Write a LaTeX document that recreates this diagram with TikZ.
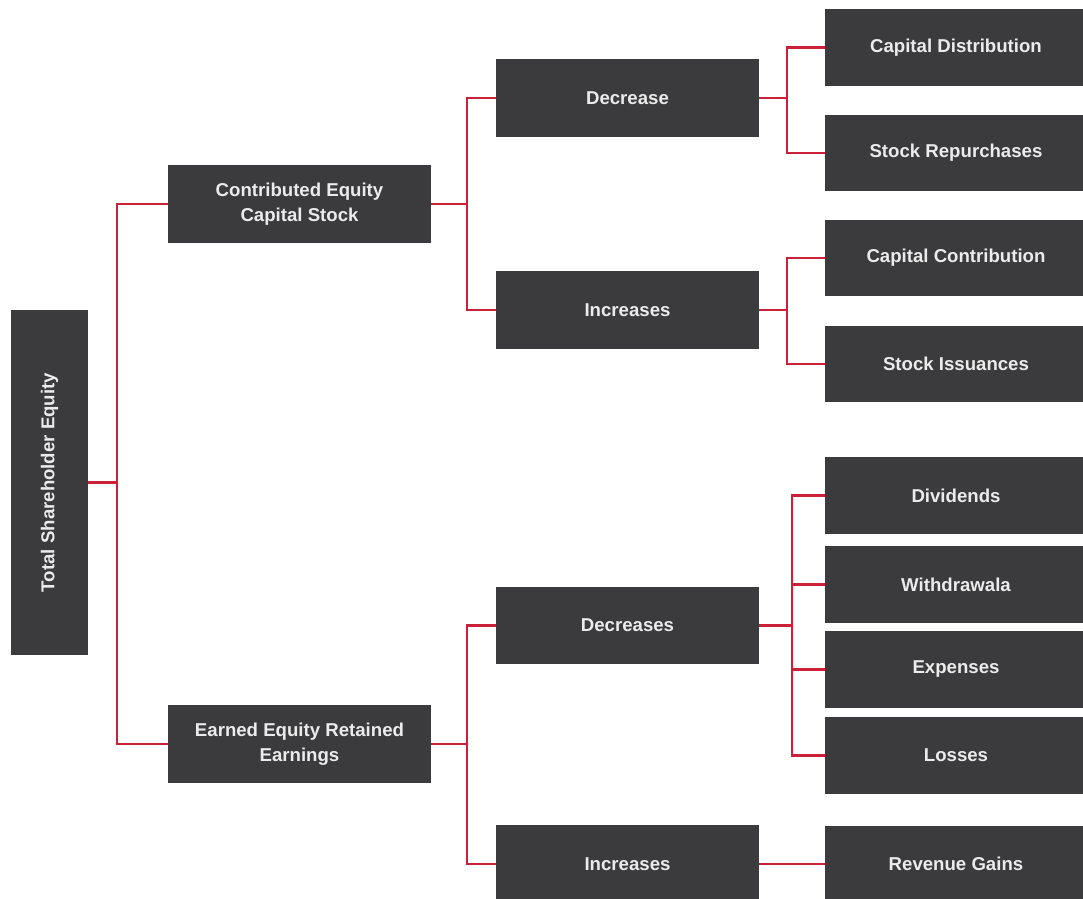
\documentclass[tikz,border=0pt]{standalone}
\usepackage{fontspec}
\setmainfont{Liberation Sans}
\usetikzlibrary{positioning}
\definecolor{boxgray}{HTML}{3B3B3D}
\definecolor{linkred}{HTML}{CC1F38}
\tikzset{
	item/.style={rectangle, fill=boxgray, text=white!92!black,
		minimum width=5.26cm, minimum height=1.56cm, align=center,
		inner sep=2pt, font=\fontsize{10.6}{14.2}\selectfont\bfseries},
	leaf/.style={item, minimum width=5.24cm, minimum height=1.54cm},
	rootbox/.style={item, minimum width=1.54cm, minimum height=6.9cm},
	link/.style={draw=linkred, line width=0.055cm}
}

\begin{document}
\begin{tikzpicture}[x=0.02cm, y=-0.02cm]
	\useasboundingbox (0,0) rectangle (1083,899);
	
	%% ---- Root (left) ----
	\node[rootbox] (tse) at (49.5,482.5) {\rotatebox{90}{Total Shareholder Equity}};
	
	%% ---- Equity kinds ----
	\node[item] (ce) at (299.5,204) {Contributed Equity\\Capital Stock};
	\node[item] (ee) at (299.5,744) {Earned Equity Retained\\Earnings};
	
	%% ---- Changes ----
	\node[item] (cdec) at (627.5,98)    {Decrease};
	\node[item] (cinc) at (627.5,310)   {Increases};
	\node[item] (edec) at (627.5,625.5) {Decreases};
	\node[item] (einc) at (627.5,864)   {Increases};
	
	%% ---- Items (right column) ----
	\node[leaf] (capdist)  at (956,47.5)  {Capital Distribution};
	\node[leaf] (stockrep) at (956,153)   {Stock Repurchases};
	\node[leaf] (capcon)   at (956,258)   {Capital Contribution};
	\node[leaf] (stockiss) at (956,364)   {Stock Issuances};
	\node[leaf] (div)      at (956,495.5) {Dividends};
	\node[leaf] (withd)    at (956,584.5) {Withdrawala};
	\node[leaf] (exps)     at (956,669.5) {Expenses};
	\node[leaf] (loss)     at (956,755.5) {Losses};
	\node[leaf] (rev)      at (956,864)   {Revenue Gains};
	
	%% ---- Junctions ----
	\coordinate (j0) at (117,482.5);
	\coordinate (j1) at (467,204);
	\coordinate (j2) at (467,744);
	\coordinate (j3) at (787,98);
	\coordinate (j4) at (787,310);
	\coordinate (j5) at (792,625.5);
	
	%% ---- Connectors ----
	\draw[link] (tse.east) -- (j0);
	\foreach \n in {ce,ee}{
		\draw[link] (j0) |- (\n.west);
	}
	\draw[link] (ce.east) -- (j1);
	\foreach \n in {cdec,cinc}{
		\draw[link] (j1) |- (\n.west);
	}
	\draw[link] (ee.east) -- (j2);
	\foreach \n in {edec,einc}{
		\draw[link] (j2) |- (\n.west);
	}
	\draw[link] (cdec.east) -- (j3);
	\foreach \n in {capdist,stockrep}{
		\draw[link] (j3) |- (\n.west);
	}
	\draw[link] (cinc.east) -- (j4);
	\foreach \n in {capcon,stockiss}{
		\draw[link] (j4) |- (\n.west);
	}
	\draw[link] (edec.east) -- (j5);
	\foreach \n in {div,withd,exps,loss}{
		\draw[link] (j5) |- (\n.west);
	}
	\draw[link] (einc.east) -- (rev.west);
	
\end{tikzpicture}
\end{document}
